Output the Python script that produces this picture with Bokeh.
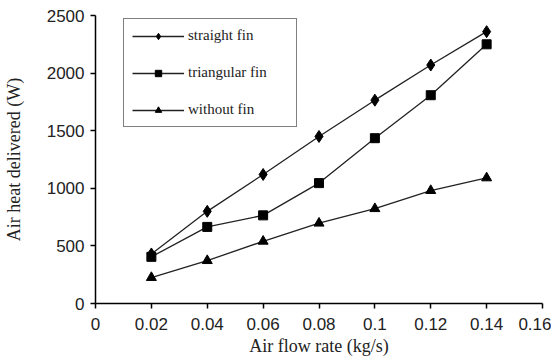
from bokeh.plotting import figure
from bokeh.models import Legend, LegendItem, FixedTicker, Range1d
from bokeh.embed import file_html
from bokeh.resources import INLINE

flow_rate = [0.02, 0.04, 0.06, 0.08, 0.1, 0.12, 0.14]
straight_fin = [430, 800, 1120, 1450, 1765, 2070, 2360]
triangular_fin = [405, 665, 765, 1045, 1435, 1808, 2250]
without_fin = [225, 372, 540, 697, 823, 980, 1090]

x_ticks = [0, 0.02, 0.04, 0.06, 0.08, 0.1, 0.12, 0.14, 0.16]
x_tick_labels = ["0", "0.02", "0.04", "0.06", "0.08", "0.1", "0.12", "0.14", "0.16"]
y_ticks = [0, 500, 1000, 1500, 2000, 2500]
y_tick_labels = ["0", "500", "1000", "1500", "2000", "2500"]

p = figure(frame_width=447, frame_height=288, output_backend="svg", toolbar_location=None,
           x_range=Range1d(0, 0.16), y_range=Range1d(0, 2500),
           min_border_left=92, min_border_right=9, min_border_top=15, min_border_bottom=56)
p.outline_line_color = None
p.xgrid.grid_line_color = None
p.ygrid.grid_line_color = None

line_color = "#222222"
r1l = p.line(flow_rate, straight_fin, line_color=line_color, line_width=1.3)
r1m = p.scatter(flow_rate, straight_fin, marker="diamond", size=12, fill_color="black", line_color="black")
r2l = p.line(flow_rate, triangular_fin, line_color=line_color, line_width=1.3)
r2m = p.scatter(flow_rate, triangular_fin, marker="square", size=9, fill_color="black", line_color="black")
r3l = p.line(flow_rate, without_fin, line_color=line_color, line_width=1.3)
r3m = p.scatter(flow_rate, without_fin, marker="triangle", size=10, fill_color="black", line_color="black")

for ax in (p.xaxis[0], p.yaxis[0]):
    ax.axis_line_color = "black"
    ax.axis_line_width = 1.5
    ax.major_tick_line_color = "black"
    ax.major_tick_line_width = 1.5
    ax.major_tick_out = 5
    ax.major_tick_in = 0
    ax.minor_tick_line_color = None
    ax.major_label_text_font = "Liberation Sans"
    ax.major_label_text_font_size = "17px"
    ax.major_label_text_color = "#222222"
    ax.axis_label_text_font = "Liberation Serif"
    ax.axis_label_text_font_size = "18px"
    ax.axis_label_text_font_style = "normal"
    ax.axis_label_text_color = "#222222"

p.xaxis.ticker = FixedTicker(ticks=x_ticks)
p.xaxis.major_label_overrides = dict(zip(x_ticks, x_tick_labels))
p.yaxis.ticker = FixedTicker(ticks=y_ticks)
p.yaxis.major_label_overrides = dict(zip(y_ticks, y_tick_labels))
p.xaxis.axis_label = "Air flow rate (kg/s)"
p.yaxis.axis_label = "Air heat delivered (W)"
p.xaxis.major_label_standoff = 9
p.yaxis.major_label_standoff = 6
p.xaxis.axis_label_standoff = 3
p.yaxis.axis_label_standoff = 20

legend = Legend(items=[
    LegendItem(label="straight fin", renderers=[r1l, r1m]),
    LegendItem(label="triangular fin", renderers=[r2l, r2m]),
    LegendItem(label="without fin", renderers=[r3l, r3m]),
], location=(28, 176))
legend.padding = 8
legend.margin = 0
legend.spacing = 20
legend.label_height = 16
legend.glyph_height = 16
legend.glyph_width = 52
legend.label_standoff = 4
legend.label_width = 100
legend.label_text_font = "Liberation Serif"
legend.label_text_font_size = "15px"
legend.label_text_color = "#222222"
legend.border_line_color = "black"
legend.border_line_width = 1.5
legend.background_fill_color = "white"
legend.background_fill_alpha = 1.0
p.add_layout(legend, "center")

open("out.html", "w").write(file_html(p, INLINE))
